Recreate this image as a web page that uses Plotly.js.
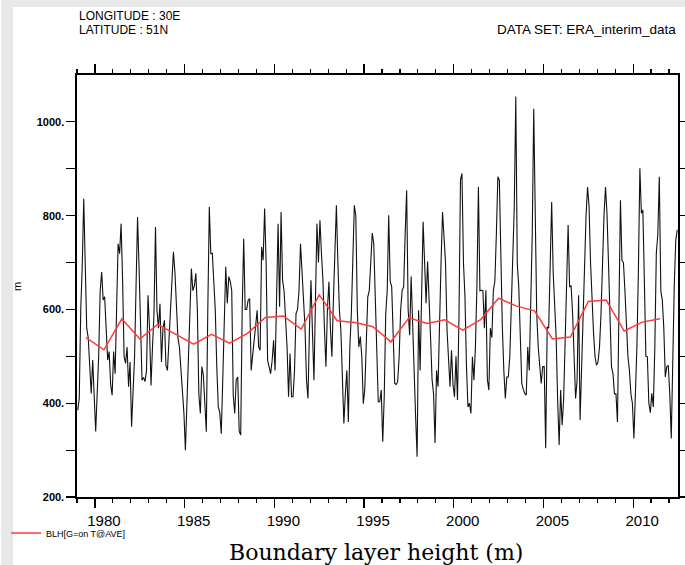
<!DOCTYPE html>
<html><head><meta charset="utf-8">
<script src="https://cdn.plot.ly/plotly-3.0.1.min.js"></script>
<style>html,body{margin:0;padding:0;background:#fff;} #chart{width:685px;height:565px;}</style>
</head><body><div id="chart"></div>
<script>
// Monthly boundary layer height (m), one row per year starting 1979 (last row: Jan-Jun 2012)
const startYear = 1979;
const blhByYear = [
  [385, 410, 600, 690, 836, 690, 560, 540, 480, 421, 492, 420], // 1979
  [340, 420, 500, 640, 680, 620, 627, 560, 492, 510, 440, 417], // 1980
  [510, 463, 600, 740, 719, 783, 662, 500, 485, 520, 435, 488], // 1981
  [350, 420, 499, 650, 797, 691, 580, 449, 455, 446, 470, 630], // 1982
  [560, 438, 520, 591, 776, 598, 560, 612, 488, 560, 577, 480], // 1983
  [470, 540, 600, 670, 723, 680, 606, 540, 520, 470, 421, 380], // 1984
  [300, 400, 500, 560, 687, 640, 650, 677, 600, 420, 378, 478], // 1985
  [460, 400, 339, 600, 819, 719, 720, 660, 598, 478, 392, 380], // 1986
  [335, 450, 560, 691, 613, 670, 660, 640, 417, 378, 450, 456], // 1987
  [340, 332, 600, 751, 600, 600, 620, 623, 470, 506, 540, 560], // 1988
  [598, 520, 513, 733, 705, 815, 700, 492, 480, 463, 490, 534], // 1989
  [470, 600, 783, 606, 808, 662, 640, 580, 520, 414, 506, 414], // 1990
  [414, 470, 591, 600, 640, 740, 680, 600, 563, 450, 410, 560], // 1991
  [662, 550, 449, 620, 783, 700, 790, 720, 662, 560, 478, 600], // 1992
  [659, 560, 499, 620, 720, 822, 700, 600, 556, 430, 357, 420], // 1993
  [470, 360, 520, 591, 700, 822, 800, 598, 520, 542, 500, 399], // 1994
  [430, 520, 627, 640, 700, 763, 740, 620, 480, 403, 403, 428], // 1995
  [318, 414, 591, 640, 801, 660, 648, 520, 442, 440, 446, 500], // 1996
  [600, 641, 648, 760, 854, 600, 545, 670, 560, 450, 371, 286], // 1997
  [598, 470, 650, 787, 700, 613, 702, 600, 540, 450, 420, 315], // 1998
  [470, 435, 591, 700, 808, 762, 700, 556, 490, 435, 513, 440], // 1999
  [414, 500, 407, 584, 876, 890, 700, 627, 480, 392, 400, 378], // 2000
  [499, 449, 520, 650, 861, 640, 641, 640, 560, 641, 450, 428], // 2001
  [560, 540, 640, 660, 760, 883, 876, 700, 563, 470, 410, 456], // 2002
  [456, 500, 600, 700, 820, 1054, 698, 648, 534, 442, 430, 421], // 2003
  [417, 520, 470, 640, 760, 1028, 847, 591, 520, 470, 442, 478], // 2004
  [478, 304, 563, 560, 700, 829, 680, 600, 540, 407, 311, 428], // 2005
  [353, 407, 520, 620, 780, 648, 650, 591, 478, 410, 449, 630], // 2006
  [364, 480, 591, 700, 800, 861, 820, 700, 600, 550, 499, 481], // 2007
  [488, 520, 591, 700, 800, 861, 805, 700, 591, 478, 463, 420], // 2008
  [420, 360, 600, 833, 705, 700, 640, 560, 500, 470, 420, 400], // 2009
  [325, 420, 520, 680, 901, 805, 812, 662, 500, 499, 400, 380], // 2010
  [421, 392, 520, 720, 760, 883, 640, 620, 560, 456, 478, 480], // 2011
  [420, 325, 500, 650, 748, 770]                                // 2012
];
// Annual averages (red line), plotted at mid-year
const meanYears = [1979,1980,1981,1982,1983,1984,1985,1986,1987,1988,1989,1990,1991,1992,1993,1994,1995,
                   1996,1997,1998,1999,2000,2001,2002,2003,2004,2005,2006,2007,2008,2009,2010,2011];
const blhAnnualMean = [540,514,580,537,568,547,526,547,528,549,583,586,558,631,576,572,563,
                       531,582,570,578,556,578,624,607,597,537,541,617,620,554,573,580];
const xTickVals = [1980,1985,1990,1995,2000,2005,2010];
const xTickText = ['1980','1985','1990','1995','2000','2005','2010'];
const yTickVals = [200,400,600,800,1000];
const yTickText = ['200.','400.','600.','800.','1000.'];
const yMinorVals = [300,500,700,900];

const mx = [], my = [];
blhByYear.forEach((row, i) => row.forEach((v, m) => { mx.push(startYear + i + (m + 0.5) / 12); my.push(v); }));
const ax = meanYears.map(y => y + 0.5);

const L = 76, R = 678, T = 75, B = 497, W = R - L, H = B - T;
const px = p => (p - L) / W, py = p => (B - p) / H;
const sans = 'Liberation Sans, Arial, Helvetica, sans-serif';

const traces = [
  {x: mx, y: my, type: 'scatter', mode: 'lines', line: {color: '#111', width: 1.1}, showlegend: false, hoverinfo: 'skip'},
  {x: ax, y: blhAnnualMean, type: 'scatter', mode: 'lines', name: 'BLH[G=on T@AVE]',
   line: {color: '#ff3b3b', width: 1.5}, hoverinfo: 'skip'}
];

const tickCommon = {tickcolor: '#000', tickwidth: 1.2};
const layout = {
  width: 685, height: 565,
  margin: {l: L, r: 685 - R, t: T, b: 565 - B},
  paper_bgcolor: '#fff', plot_bgcolor: '#fff',
  hovermode: false,
  showlegend: true,
  legend: {x: px(6), xanchor: 'left', y: py(533), yanchor: 'middle',
           font: {family: sans, size: 9, color: '#000'}, bgcolor: 'rgba(0,0,0,0)',
           itemwidth: 30, borderwidth: 0},
  xaxis: Object.assign({
    range: [1979, 2012.5], tickmode: 'array', tickvals: xTickVals, ticktext: xTickText,
    ticks: 'outside', ticklen: 9, ticklabelshift: 9,
    minor: Object.assign({dtick: 1, tick0: 1979, ticks: 'outside', ticklen: 4, showgrid: false}, tickCommon),
    showline: true, linecolor: '#000', linewidth: 1.6, mirror: 'allticks',
    showgrid: false, zeroline: false,
    tickfont: {family: sans, size: 15, color: '#000'}
  }, tickCommon),
  yaxis: Object.assign({
    range: [200, 1100], tickmode: 'array', tickvals: yTickVals, ticktext: yTickText,
    ticks: 'outside', ticklen: 9,
    minor: Object.assign({tickvals: yMinorVals, ticks: 'outside', ticklen: 9, showgrid: false}, tickCommon),
    showline: true, linecolor: '#000', linewidth: 1.6, mirror: 'allticks',
    showgrid: false, zeroline: false,
    tickfont: {family: sans, size: 11, color: '#000', weight: 'bold'}
  }, tickCommon),
  shapes: [
    {type: 'rect', xref: 'paper', yref: 'paper', x0: px(0), x1: px(12), y0: py(565), y1: py(0),
     fillcolor: '#e8e8e8', line: {width: 0}, layer: 'below'},
    {type: 'rect', xref: 'paper', yref: 'paper', x0: px(0), x1: px(685), y0: py(7), y1: py(0),
     fillcolor: '#e8e8e8', line: {width: 0}, layer: 'below'}
  ],
  annotations: [
    {text: 'LONGITUDE : 30E', xref: 'paper', yref: 'paper', x: px(76), y: py(16), xanchor: 'left', yanchor: 'middle',
     showarrow: false, font: {family: sans, size: 12, color: '#000'}},
    {text: 'LATITUDE : 51N', xref: 'paper', yref: 'paper', x: px(76), y: py(30), xanchor: 'left', yanchor: 'middle',
     showarrow: false, font: {family: sans, size: 12, color: '#000'}},
    {text: 'DATA SET: ERA_interim_data', xref: 'paper', yref: 'paper', x: px(678), y: py(30), xanchor: 'right', yanchor: 'middle',
     showarrow: false, font: {family: sans, size: 13.5, color: '#000'}},
    {text: 'm', xref: 'paper', yref: 'paper', x: px(16), y: py(287), xanchor: 'center', yanchor: 'middle',
     textangle: -90, showarrow: false, font: {family: sans, size: 11, color: '#000'}},
    {text: 'Boundary layer height (m)', xref: 'paper', yref: 'paper', x: px(375), y: py(552), xanchor: 'center', yanchor: 'middle',
     showarrow: false, font: {family: 'DejaVu Serif, serif', size: 22, color: '#000'}}
  ]
};

Plotly.newPlot('chart', traces, layout, {displayModeBar: false, staticPlot: true});
</script>
</body></html>
